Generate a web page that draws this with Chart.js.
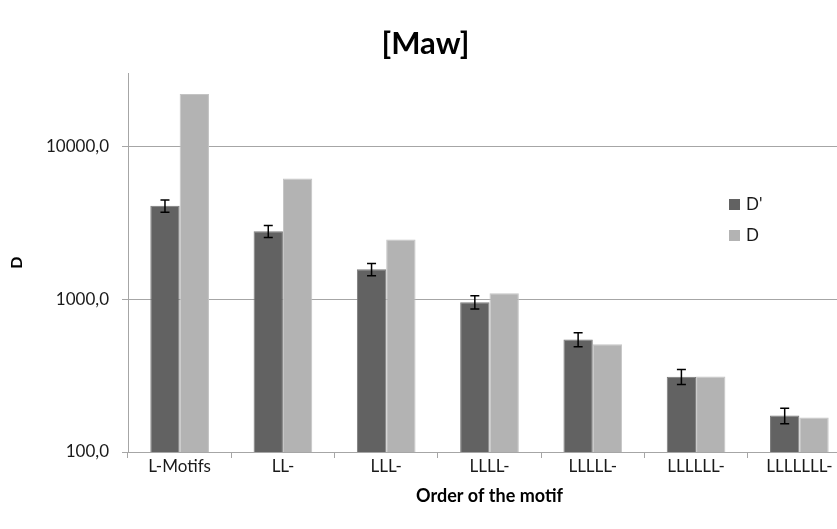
<!DOCTYPE html>
<html>
<head>
<meta charset="utf-8">
<script src="https://cdn.jsdelivr.net/npm/chart.js@4.4.1/dist/chart.umd.min.js"></script>
<style>
  html, body { margin: 0; padding: 0; background: #ffffff; overflow: hidden; }
  #wrap { width: 854px; height: 529px; }
</style>
</head>
<body>
<div id="wrap"><canvas id="chart" width="854" height="529"></canvas></div>
<script>
// Motif orders on the x axis
const categories = ['L-Motifs', 'LL-', 'LLL-', 'LLLL-', 'LLLLL-', 'LLLLLL-', 'LLLLLLL-'];
// D' (mean) with its error half-widths, and D
const dPrimeValues = [4070, 2780, 1565, 955, 545, 311, 173];
const dPrimeErrors = [380, 250, 145, 95, 57, 35, 20];
const dValues = [21900, 6150, 2450, 1090, 506, 312, 168];
// Labelled ticks on the logarithmic value axis
const yTickValues = [100, 1000, 10000];

const FONT = 'Lato, "Open Sans", sans-serif';
const GRID = '#a6a6a6';

function fmtComma(v) {
  return v.toFixed(1).replace('.', ',');
}

// Error whiskers drawn on the D' bars
const errorBars = {
  id: 'errorBars',
  afterDatasetsDraw(chart) {
    const meta = chart.getDatasetMeta(0);
    const y = chart.scales.y;
    const ctx = chart.ctx;
    ctx.save();
    ctx.strokeStyle = '#000000';
    ctx.lineWidth = 1.5;
    meta.data.forEach((bar, i) => {
      const v = dPrimeValues[i], e = dPrimeErrors[i];
      const yTop = y.getPixelForValue(v + e);
      const yBot = y.getPixelForValue(v - e);
      const x = bar.x;
      ctx.beginPath();
      ctx.moveTo(x, yTop); ctx.lineTo(x, yBot);
      ctx.moveTo(x - 4.5, yTop); ctx.lineTo(x + 4.5, yTop);
      ctx.moveTo(x - 4.5, yBot); ctx.lineTo(x + 4.5, yBot);
      ctx.stroke();
    });
    ctx.restore();
  }
};

// Legend placed inside the plot, to the right
const sideLegend = {
  id: 'sideLegend',
  afterDraw(chart) {
    const ctx = chart.ctx;
    ctx.save();
    ctx.font = '17px ' + FONT;
    ctx.textBaseline = 'middle';
    ctx.textAlign = 'left';
    chart.data.datasets.forEach((ds, i) => {
      const top = 199 + i * 31;
      ctx.fillStyle = ds.backgroundColor;
      ctx.fillRect(729, top, 11, 11);
      ctx.fillStyle = '#1a1a1a';
      ctx.fillText(ds.label, 746, top + 6);
    });
    ctx.restore();
  }
};

function draw() {
  new Chart(document.getElementById('chart'), {
    type: 'bar',
    data: {
      labels: categories,
      datasets: [
        { label: "D'", data: dPrimeValues, backgroundColor: '#626262', borderColor: '#7a7a7a', borderWidth: 1 },
        { label: 'D', data: dValues, backgroundColor: '#b3b3b3', borderColor: '#c4c4c4', borderWidth: 1 }
      ]
    },
    options: {
      responsive: false,
      animation: false,
      layout: { padding: { left: 0, right: 3, top: 0, bottom: 0 } },
      datasets: { bar: { categoryPercentage: 0.568, barPercentage: 1.0 } },
      plugins: {
        legend: { display: false },
        tooltip: { enabled: false },
        title: {
          display: true,
          text: '[Maw]',
          color: '#000000',
          font: { family: FONT, size: 31, weight: 'bold', lineHeight: 1.2 },
          padding: { top: 25, bottom: 11 }
        }
      },
      scales: {
        x: {
          offset: true,
          grid: { display: true, drawOnChartArea: false, drawTicks: true, tickLength: 6, color: GRID, offset: true },
          border: { display: true, color: GRID, width: 1 },
          ticks: { color: '#1a1a1a', font: { family: FONT, size: 17, lineHeight: 1 }, padding: 0, maxRotation: 0, autoSkip: false },
          title: {
            display: true,
            text: 'Order of the motif',
            color: '#000000',
            font: { family: FONT, size: 18, weight: 'bold', lineHeight: 1 },
            padding: { top: 0, bottom: 24 }
          },
          afterFit(scale) { scale.height = 77; }
        },
        y: {
          type: 'logarithmic',
          min: 100,
          max: 30000,
          grid: { color: GRID, lineWidth: 1, tickLength: 6, drawTicks: true },
          border: { display: true, color: GRID, width: 1 },
          ticks: {
            color: '#1a1a1a',
            font: { family: FONT, size: 17 },
            padding: 13,
            callback: (v) => fmtComma(v)
          },
          afterBuildTicks(scale) {
            scale.ticks = yTickValues.map(v => ({ value: v }));
          },
          title: {
            display: true,
            text: 'D',
            color: '#000000',
            font: { family: FONT, size: 16, weight: 'bold', lineHeight: 1.2 },
            padding: { top: 7, bottom: 0 }
          },
          afterFit(scale) { scale.width = 128; }
        }
      }
    },
    plugins: [errorBars, sideLegend]
  });
}

if (document.fonts && document.fonts.load) {
  Promise.all([
    document.fonts.load('17px Lato'),
    document.fonts.load('bold 31px Lato')
  ]).then(draw, draw);
} else {
  draw();
}
</script>
</body>
</html>
